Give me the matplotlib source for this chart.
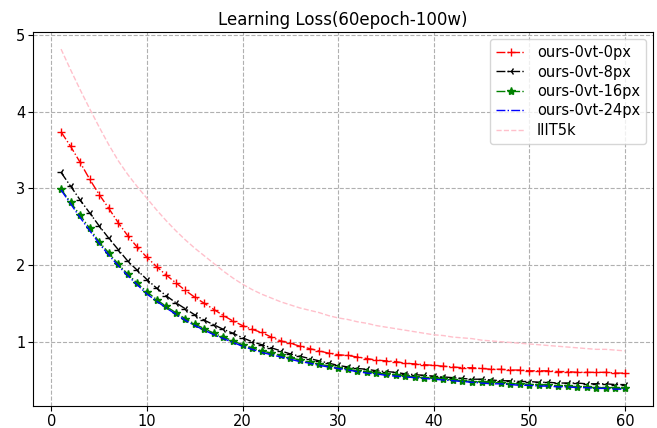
import matplotlib
matplotlib.use('Agg')
import matplotlib.pyplot as plt
import numpy as np

epochs = np.arange(1, 61)

# ours-0vt-0px
loss_0px = [3.74, 3.55, 3.34, 3.12, 2.92, 2.74, 2.55, 2.38, 2.23, 2.10,
            1.98, 1.87, 1.77, 1.67, 1.58, 1.50, 1.42, 1.34, 1.27, 1.21,
            1.16, 1.12, 1.06, 1.01, 0.98, 0.94, 0.91, 0.88, 0.85, 0.83,
            0.82, 0.80, 0.78, 0.76, 0.75, 0.74, 0.72, 0.71, 0.70, 0.69,
            0.68, 0.67, 0.66, 0.66, 0.65, 0.64, 0.64, 0.63, 0.63, 0.62,
            0.62, 0.62, 0.61, 0.61, 0.60, 0.60, 0.60, 0.60, 0.59, 0.59]
# ours-0vt-8px
loss_8px = [3.21, 3.03, 2.85, 2.68, 2.51, 2.35, 2.20, 2.05, 1.93, 1.81,
            1.70, 1.60, 1.51, 1.43, 1.35, 1.28, 1.22, 1.16, 1.11, 1.05,
            1.00, 0.96, 0.92, 0.88, 0.84, 0.81, 0.78, 0.75, 0.72, 0.69,
            0.67, 0.65, 0.64, 0.62, 0.61, 0.60, 0.58, 0.57, 0.56, 0.55,
            0.54, 0.53, 0.52, 0.51, 0.51, 0.50, 0.49, 0.49, 0.48, 0.48,
            0.47, 0.47, 0.46, 0.46, 0.46, 0.45, 0.45, 0.45, 0.44, 0.44]
# ours-0vt-16px
loss_16px = [2.99, 2.82, 2.65, 2.48, 2.30, 2.16, 2.01, 1.88, 1.76, 1.65,
             1.55, 1.46, 1.38, 1.30, 1.23, 1.17, 1.11, 1.06, 1.01, 0.96,
             0.92, 0.88, 0.85, 0.82, 0.79, 0.76, 0.73, 0.71, 0.68, 0.66,
             0.64, 0.62, 0.61, 0.59, 0.58, 0.57, 0.55, 0.54, 0.53, 0.52,
             0.51, 0.50, 0.49, 0.48, 0.47, 0.47, 0.46, 0.45, 0.45, 0.44,
             0.44, 0.43, 0.42, 0.42, 0.41, 0.41, 0.40, 0.40, 0.39, 0.39]
# ours-0vt-24px
loss_24px = [2.98, 2.80, 2.62, 2.45, 2.28, 2.13, 1.99, 1.86, 1.74, 1.62,
             1.53, 1.44, 1.36, 1.28, 1.21, 1.15, 1.09, 1.04, 0.99, 0.94,
             0.90, 0.86, 0.83, 0.80, 0.77, 0.74, 0.72, 0.69, 0.67, 0.65,
             0.63, 0.61, 0.59, 0.58, 0.56, 0.55, 0.54, 0.53, 0.52, 0.51,
             0.50, 0.49, 0.48, 0.47, 0.46, 0.45, 0.45, 0.44, 0.43, 0.43,
             0.42, 0.42, 0.41, 0.41, 0.40, 0.40, 0.39, 0.39, 0.38, 0.38]
# IIIT5k
loss_iiit5k = [4.82, 4.55, 4.29, 4.04, 3.80, 3.57, 3.36, 3.18, 3.02, 2.87,
               2.72, 2.58, 2.45, 2.33, 2.22, 2.12, 2.02, 1.92, 1.83, 1.75,
               1.68, 1.62, 1.57, 1.52, 1.48, 1.44, 1.41, 1.38, 1.34, 1.31,
               1.29, 1.26, 1.24, 1.21, 1.19, 1.17, 1.15, 1.13, 1.11, 1.09,
               1.08, 1.06, 1.05, 1.04, 1.02, 1.01, 1.00, 0.99, 0.98, 0.97,
               0.96, 0.95, 0.94, 0.93, 0.92, 0.91, 0.90, 0.90, 0.89, 0.88]

fig = plt.figure(figsize=(6.57, 4.28), dpi=100)
ax = fig.add_axes([0.050, 0.051, 0.944, 0.874])

ax.plot(epochs, loss_0px, 'r+-.', lw=1, ms=6, label='ours-0vt-0px')
ax.plot(epochs, loss_8px, 'k3-.', lw=1, ms=6, label='ours-0vt-8px')
ax.plot(epochs, loss_16px, 'g*-.', lw=1, ms=6, label='ours-0vt-16px')
ax.plot(epochs, loss_24px, 'b-.', lw=1, label='ours-0vt-24px')
ax.plot(epochs, loss_iiit5k, '--', color='pink', lw=1, label='IIIT5k')

ax.set_title('Learning Loss(60epoch-100w)', fontsize=12, pad=5)
ax.set_yticks([1, 2, 3, 4, 5])
ax.set_xticks([0, 10, 20, 30, 40, 50, 60])
ax.tick_params(labelsize=10.5, pad=2)
ax.grid(True, linestyle='--', color='#b0b0b0')
ax.legend(loc='upper right', fontsize=10.5, labelspacing=0.3)

plt.savefig('out.png', dpi=100)
